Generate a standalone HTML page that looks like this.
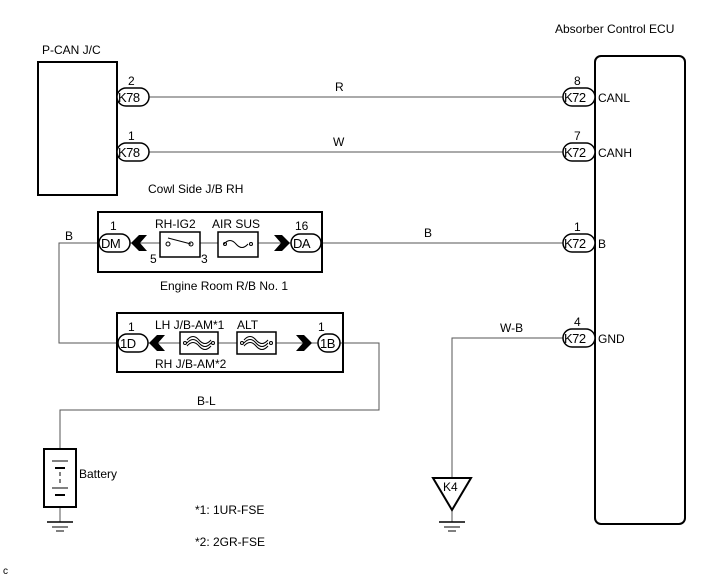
<!DOCTYPE html>
<html><head><meta charset="utf-8"><style>
html,body{margin:0;padding:0;background:#fff;}
svg{display:block;font-family:"Liberation Sans",Arial,sans-serif;}
</style></head><body>
<svg width="711" height="579" viewBox="0 0 711 579" xmlns="http://www.w3.org/2000/svg">
<g fill="none" stroke="#000">
<g stroke="#555" stroke-width="1">
<line x1="149" y1="97" x2="563" y2="97"/>
<line x1="149" y1="152" x2="563" y2="152"/>
<line x1="321" y1="243" x2="563" y2="243"/>
<polyline points="99,243 59,243 59,343 118,343"/>
<polyline points="340,343 379,343 379,410 60,410 60,449"/>
<polyline points="563,338 452,338 452,478"/>
<line x1="60" y1="507" x2="60" y2="522"/>
<line x1="452" y1="510" x2="452" y2="522"/>
<line x1="148" y1="343" x2="318" y2="343"/>
<line x1="130" y1="243" x2="291" y2="243"/>
</g>
<rect x="38" y="62" width="79" height="133" stroke-width="2"/>
<rect x="595" y="56" width="90" height="468" rx="6" stroke-width="2"/>
<rect x="98" y="212" width="224" height="60" stroke-width="2"/>
<rect x="117" y="313" width="226" height="59" stroke-width="2"/>
<g stroke-width="1.5" fill="#fff">
<rect x="117" y="88" width="32" height="18" rx="9"/>
<rect x="117" y="143" width="32" height="18" rx="9"/>
<rect x="563" y="88" width="32" height="18" rx="9"/>
<rect x="563" y="143" width="32" height="18" rx="9"/>
<rect x="563" y="234" width="32" height="18" rx="9"/>
<rect x="563" y="329" width="32" height="18" rx="9"/>
<rect x="99" y="234" width="31" height="18" rx="9"/>
<rect x="291" y="234" width="30" height="18" rx="9"/>
<rect x="118" y="334" width="30" height="18" rx="9"/>
<rect x="318" y="334" width="22" height="18" rx="9"/>
<rect x="160" y="232" width="40" height="25"/>
<rect x="218" y="232" width="40" height="25"/>
<rect x="180" y="332" width="38" height="22"/>
<rect x="237" y="332" width="39" height="22"/>
</g>
<g stroke-width="1">
<circle cx="168" cy="244" r="2"/><circle cx="191" cy="244" r="2"/>
<line x1="168" y1="238" x2="191" y2="244"/>
<path d="M224,244 q6,-7 12,0 t12,0"/>
<circle cx="225" cy="244" r="1.5"/><circle cx="251" cy="244" r="1.5"/>
<circle cx="185" cy="343" r="1.5"/><circle cx="213" cy="343" r="1.5"/>
<path d="M187,343 q6,-7 12,0 t12,0 M187,340 q6,-7 12,0 t12,0 M187,346 q6,-7 12,0 t12,0"/>
<circle cx="242" cy="343" r="1.5"/><circle cx="271" cy="343" r="1.5"/>
<path d="M244,343 q6,-7 12,0 t12,0 M244,340 q6,-7 12,0 t12,0 M244,346 q6,-7 12,0 t12,0"/>
</g>
<rect x="44" y="449" width="32" height="58" stroke-width="2"/>
<g stroke-width="1">
<line x1="52" y1="461" x2="68" y2="461"/>
<line x1="55" y1="468" x2="65" y2="468" stroke-width="2"/>
<line x1="60" y1="472" x2="60" y2="476"/><line x1="60" y1="479" x2="60" y2="483"/>
<line x1="52" y1="488" x2="68" y2="488"/>
<line x1="55" y1="495" x2="65" y2="495" stroke-width="2"/>
</g>
<g stroke-width="1.5">
<line x1="47" y1="522" x2="73" y2="522"/><line x1="52" y1="527" x2="68" y2="527" stroke-width="1"/><line x1="56" y1="531" x2="64" y2="531" stroke-width="1"/>
<line x1="439" y1="522" x2="465" y2="522"/><line x1="444" y1="527" x2="460" y2="527" stroke-width="1"/><line x1="448" y1="531" x2="456" y2="531" stroke-width="1"/>
</g>
<polygon points="433,478 471,478 452,510" stroke-width="2" fill="#fff"/>
</g>
<g fill="#000">
<polygon points="131,243 139,235 147,235 140,243 147,251 139,251"/>
<polygon points="290,243 282,235 274,235 281,243 274,251 282,251"/>
<polygon points="149,343 157,335 165,335 158,343 165,351 157,351"/>
<polygon points="312,343 304,335 296,335 303,343 296,351 304,351"/>
</g>
<g font-size="12" fill="#000">
<text x="42" y="54">P-CAN J/C</text>
<text x="555" y="33">Absorber Control ECU</text>
<text x="128" y="85">2</text><text x="128" y="140">1</text>
<g font-size="13" letter-spacing="-0.5">
<text x="118" y="102">K78</text><text x="118" y="157">K78</text>
<text x="564" y="102">K72</text><text x="564" y="157">K72</text><text x="564" y="248">K72</text><text x="564" y="343">K72</text>
<text x="101" y="248">DM</text><text x="293" y="248">DA</text>
<text x="120" y="348">1D</text><text x="320" y="348">1B</text>
</g>
<text x="335" y="91">R</text><text x="333" y="146">W</text>
<text x="574" y="85">8</text><text x="574" y="140">7</text>
<text x="574" y="231">1</text><text x="574" y="326">4</text>
<text x="598" y="102">CANL</text><text x="598" y="157">CANH</text><text x="598" y="248">B</text><text x="598" y="343">GND</text>
<text x="148" y="193">Cowl Side J/B RH</text>
<text x="110" y="230">1</text><text x="295" y="230">16</text>
<text x="155" y="228">RH-IG2</text><text x="212" y="228">AIR SUS</text>
<text x="150" y="263">5</text><text x="201" y="263">3</text>
<text x="65" y="240">B</text><text x="424" y="237">B</text>
<text x="160" y="290">Engine Room R/B No. 1</text>
<text x="128" y="331">1</text><text x="318" y="331">1</text>
<text x="155" y="329">LH J/B-AM*1</text><text x="237" y="329">ALT</text>
<text x="155" y="368">RH J/B-AM*2</text>
<text x="197" y="405">B-L</text><text x="500" y="332">W-B</text>
<text x="79" y="478">Battery</text>
<text x="443" y="491">K4</text>
<text x="195" y="514">*1: 1UR-FSE</text>
<text x="195" y="546">*2: 2GR-FSE</text>
<text x="3" y="574" font-size="10">c</text>
</g>
</svg>
</body></html>
